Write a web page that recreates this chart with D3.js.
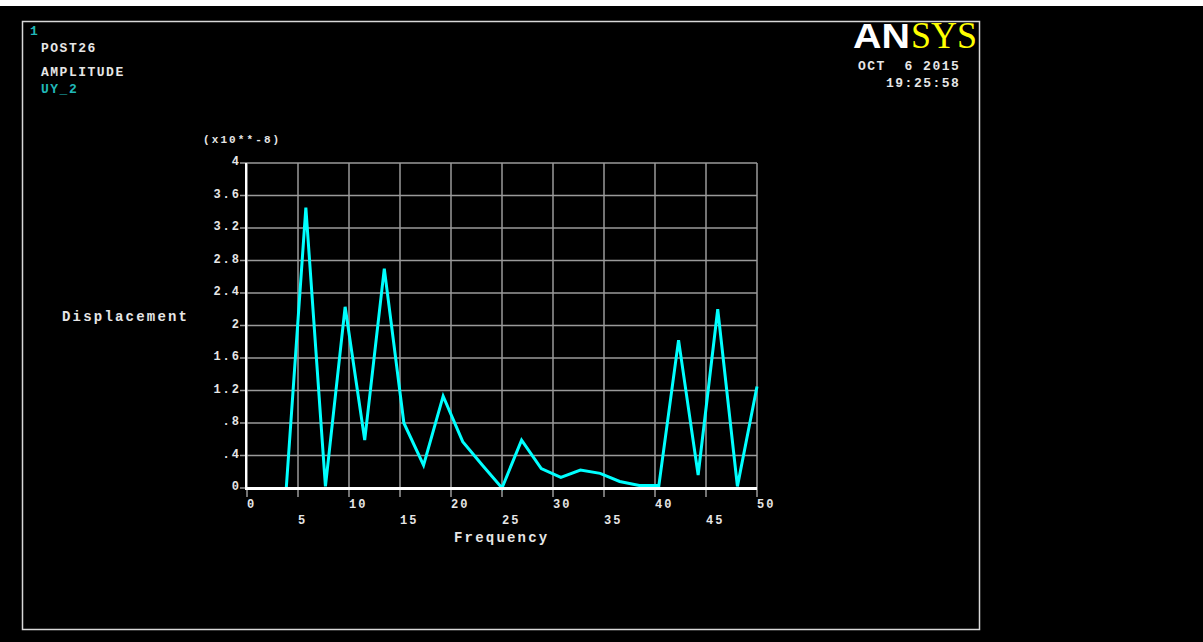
<!DOCTYPE html>
<html>
<head>
<meta charset="utf-8">
<script src="https://cdn.jsdelivr.net/npm/d3@7"></script>
<style>
  html, body { margin: 0; padding: 0; background: #000; }
  svg { display: block; }
  .mono { font-family: "Liberation Mono", "DejaVu Sans Mono", monospace; font-weight: bold; }
</style>
</head>
<body>
<script>
// POST26 amplitude response: UY at node 2 vs. frequency
const frequency = [3.85, 5.77, 7.69, 9.62, 11.54, 13.46, 15.38, 17.31, 19.23, 21.15,
                   23.08, 25.00, 26.92, 28.85, 30.77, 32.69, 34.62, 36.54, 38.46, 40.38,
                   42.31, 44.23, 46.15, 48.08, 50.00];
const displacement = [0.00, 3.45, 0.02, 2.23, 0.59, 2.70, 0.80, 0.28, 1.13, 0.57,
                      0.28, 0.00, 0.59, 0.24, 0.13, 0.22, 0.18, 0.08, 0.03, 0.03,
                      1.82, 0.16, 2.20, 0.02, 1.25];

const xTicks = [0, 5, 10, 15, 20, 25, 30, 35, 40, 45, 50];
const xTickLabels = ["0", "5", "10", "15", "20", "25", "30", "35", "40", "45", "50"];
const yTicks = [0, 0.4, 0.8, 1.2, 1.6, 2.0, 2.4, 2.8, 3.2, 3.6, 4.0];
const yTickLabels = ["0", ".4", ".8", "1.2", "1.6", "2", "2.4", "2.8", "3.2", "3.6", "4"];

const W = 1203, H = 642;
const svg = d3.select("body").append("svg").attr("width", W).attr("height", H);

// page background with the light strip across the top
svg.append("rect").attr("width", W).attr("height", H).attr("fill", "#000");
svg.append("rect").attr("width", W).attr("height", 6).attr("fill", "#fff");

// graphics window frame
svg.append("rect")
  .attr("x", 22.5).attr("y", 21.5).attr("width", 957).attr("height", 608)
  .attr("fill", "none").attr("stroke", "#d8d8d8").attr("stroke-width", 1.5);

const x = d3.scaleLinear().domain([0, 50]).range([247, 757]);
const y = d3.scaleLinear().domain([0, 4]).range([488, 163]);

const grid = svg.append("g").attr("stroke", "#9a9a9a").attr("stroke-width", 1.5);
// vertical grid lines, extended below the axis as ticks
grid.selectAll("line.v").data(xTicks).join("line")
  .attr("x1", d => x(d)).attr("x2", d => x(d))
  .attr("y1", y(4)).attr("y2", y(0) + 9);
// horizontal grid lines, extended left of the axis as ticks
grid.selectAll("line.h").data(yTicks).join("line")
  .attr("x1", x(0) - 7).attr("x2", x(50))
  .attr("y1", d => y(d)).attr("y2", d => y(d));

// y axis
svg.append("line")
  .attr("x1", x(0) - 1).attr("x2", x(0) - 1).attr("y1", y(4)).attr("y2", y(0))
  .attr("stroke", "#fff").attr("stroke-width", 2);

// response curve
const line = d3.line().x((d, i) => x(frequency[i])).y(d => y(d));
svg.append("path")
  .datum(displacement)
  .attr("d", line)
  .attr("fill", "none")
  .attr("stroke", "#00ffff")
  .attr("stroke-width", 3)
  .attr("stroke-linejoin", "miter");

// x axis
svg.append("line")
  .attr("x1", x(0) - 2).attr("x2", x(50)).attr("y1", y(0) + 0.5).attr("y2", y(0) + 0.5)
  .attr("stroke", "#fff").attr("stroke-width", 3);

const txt = "#e6e6e6";

// x tick labels, alternating between two rows
svg.append("g").selectAll("text").data(xTicks).join("text")
  .attr("class", "mono")
  .attr("x", d => x(d))
  .attr("y", (d, i) => i % 2 === 0 ? 508 : 524)
  .attr("fill", txt).attr("font-size", 12).attr("letter-spacing", 2)
  .text((d, i) => xTickLabels[i]);

// y tick labels
svg.append("g").selectAll("text").data(yTicks).join("text")
  .attr("class", "mono")
  .attr("x", 241)
  .attr("y", d => y(d) + 2)
  .attr("text-anchor", "end")
  .attr("fill", txt).attr("font-size", 12).attr("letter-spacing", 2)
  .text((d, i) => yTickLabels[i]);

// axis titles and multiplier
svg.append("text").attr("class", "mono").attr("x", 203).attr("y", 143)
  .attr("fill", txt).attr("font-size", 11).attr("letter-spacing", 2.1)
  .text("(x10**-8)");
svg.append("text").attr("class", "mono").attr("x", 62).attr("y", 321)
  .attr("fill", txt).attr("font-size", 14).attr("letter-spacing", 2.2)
  .text("Displacement");
svg.append("text").attr("class", "mono").attr("x", 454).attr("y", 542)
  .attr("fill", txt).attr("font-size", 14).attr("letter-spacing", 2.2)
  .text("Frequency");

// window header
svg.append("text").attr("class", "mono").attr("x", 30).attr("y", 35)
  .attr("fill", "#20b8b8").attr("font-size", 13)
  .text("1");
svg.append("text").attr("class", "mono").attr("x", 41).attr("y", 52)
  .attr("fill", txt).attr("font-size", 13).attr("letter-spacing", 1.5)
  .text("POST26");
svg.append("text").attr("class", "mono").attr("x", 41).attr("y", 76)
  .attr("fill", txt).attr("font-size", 13).attr("letter-spacing", 1.5)
  .text("AMPLITUDE");
svg.append("text").attr("class", "mono").attr("x", 41).attr("y", 93)
  .attr("fill", "#20b8b8").attr("font-size", 13).attr("letter-spacing", 1.5)
  .text("UY_2");

// logo and time stamp
svg.append("text").attr("x", 853).attr("y", 48)
  .attr("fill", "#fff")
  .style("font-family", "'Liberation Sans', Arial, sans-serif")
  .style("font-weight", "900").style("font-size", "35px")
  .attr("textLength", 57).attr("lengthAdjust", "spacingAndGlyphs")
  .text("AN");
svg.append("text").attr("x", 911).attr("y", 48)
  .attr("fill", "#ffff00")
  .style("font-family", "'Liberation Serif', 'Times New Roman', serif")
  .style("font-size", "37px")
  .attr("textLength", 66).attr("lengthAdjust", "spacingAndGlyphs")
  .text("SYS");
svg.append("text").attr("class", "mono").attr("x", 858).attr("y", 70)
  .attr("fill", txt).attr("font-size", 13).attr("letter-spacing", 1.5)
  .style("white-space", "pre")
  .text("OCT  6 2015");
svg.append("text").attr("class", "mono").attr("x", 886).attr("y", 87)
  .attr("fill", txt).attr("font-size", 13).attr("letter-spacing", 1.5)
  .text("19:25:58");
</script>
</body>
</html>
